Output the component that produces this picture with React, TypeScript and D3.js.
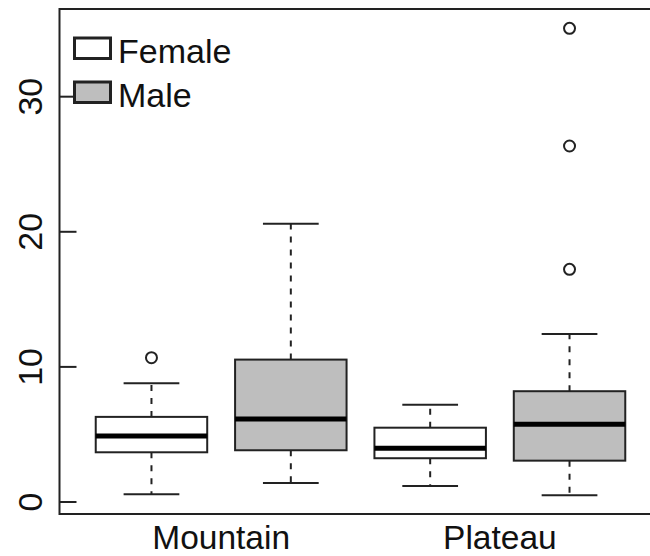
import React from "react";
import * as d3 from "d3";

// Groups, in drawing order: site × sex
const sites = ["Mountain", "Plateau"];
const sexes = ["Female", "Male"];
const groupSite = [0, 0, 1, 1];
const groupSex = [0, 1, 0, 1];

// Five-number summaries per group
const whiskerLow = [0.57, 1.41, 1.19, 0.5];
const q1 = [3.68, 3.83, 3.24, 3.06];
const median = [4.89, 6.15, 3.98, 5.76];
const q3 = [6.3, 10.54, 5.5, 8.2];
const whiskerHigh = [8.79, 20.59, 7.19, 12.44];
const outliers: number[][] = [[10.68], [], [], [35.06, 26.35, 17.22]];

const yTicks = [0, 10, 20, 30];
const fills = ["#ffffff", "#bebebe"];

const W = 650;
const H = 556;
const FONT = "'Liberation Sans', Arial, Helvetica, sans-serif";
const INK = "#222";

export default function App() {
  const left = 59.5;
  const top = 9;
  const bottom = 514;

  const x = d3.scaleLinear().domain([0.34, 4.66]).range([left, 661.5]);
  const y = d3.scaleLinear().domain([-0.888, 36.49]).range([bottom, top]);

  const boxHalf = x(1.4) - x(1);
  const capHalf = x(1.2) - x(1);

  return (
    <svg
      width={W}
      height={H}
      style={{ position: "absolute", left: 0, top: 0, background: "#fff" }}
      fontFamily={FONT}
    >
      {/* frame */}
      <path
        d={`M${x.range()[1]},${top} H${left} V${bottom} H${x.range()[1]}`}
        fill="none"
        stroke={INK}
        strokeWidth={2}
      />

      {/* y axis ticks (inward) and rotated labels */}
      {yTicks.map((t) => (
        <g key={t}>
          <line x1={left} x2={left + 17} y1={y(t)} y2={y(t)} stroke={INK} strokeWidth={2} />
          <text
            transform={`translate(41.5,${y(t)}) rotate(-90)`}
            textAnchor="middle"
            fontSize={34}
            fill="#111"
          >
            {t}
          </text>
        </g>
      ))}

      {/* boxes */}
      {median.map((m, i) => {
        const cx = x(i + 1);
        return (
          <g key={i}>
            <line
              x1={cx}
              x2={cx}
              y1={y(q3[i])}
              y2={y(whiskerHigh[i])}
              stroke={INK}
              strokeWidth={2}
              strokeDasharray="6,7"
            />
            <line
              x1={cx}
              x2={cx}
              y1={y(q1[i])}
              y2={y(whiskerLow[i])}
              stroke={INK}
              strokeWidth={2}
              strokeDasharray="6,7"
            />
            <line
              x1={cx - capHalf}
              x2={cx + capHalf}
              y1={y(whiskerHigh[i])}
              y2={y(whiskerHigh[i])}
              stroke={INK}
              strokeWidth={2}
            />
            <line
              x1={cx - capHalf}
              x2={cx + capHalf}
              y1={y(whiskerLow[i])}
              y2={y(whiskerLow[i])}
              stroke={INK}
              strokeWidth={2}
            />
            <rect
              x={cx - boxHalf}
              y={y(q3[i])}
              width={boxHalf * 2}
              height={y(q1[i]) - y(q3[i])}
              fill={fills[groupSex[i]]}
              stroke={INK}
              strokeWidth={2}
            />
            <line
              x1={cx - boxHalf}
              x2={cx + boxHalf}
              y1={y(m)}
              y2={y(m)}
              stroke="#000"
              strokeWidth={5}
            />
            {outliers[i].map((o, k) => (
              <circle
                key={k}
                cx={cx}
                cy={y(o)}
                r={5.5}
                fill="none"
                stroke={INK}
                strokeWidth={2}
              />
            ))}
          </g>
        );
      })}

      {/* site labels */}
      {sites.map((s, j) => {
        const idx = groupSite.map((g, i) => (g === j ? i + 1 : NaN)).filter((v) => !isNaN(v));
        const cx = x(d3.mean(idx) as number);
        return (
          <text key={s} x={cx} y={549} textAnchor="middle" fontSize={33.5} fill="#111">
            {s}
          </text>
        );
      })}

      {/* legend */}
      {sexes.map((s, k) => (
        <g key={s} transform={`translate(0,${k * 44})`}>
          <rect
            x={74.5}
            y={38}
            width={36}
            height={20.5}
            fill={fills[k]}
            stroke={INK}
            strokeWidth={3}
          />
          <text x={118} y={63} fontSize={34} fill="#111">
            {s}
          </text>
        </g>
      ))}
    </svg>
  );
}
